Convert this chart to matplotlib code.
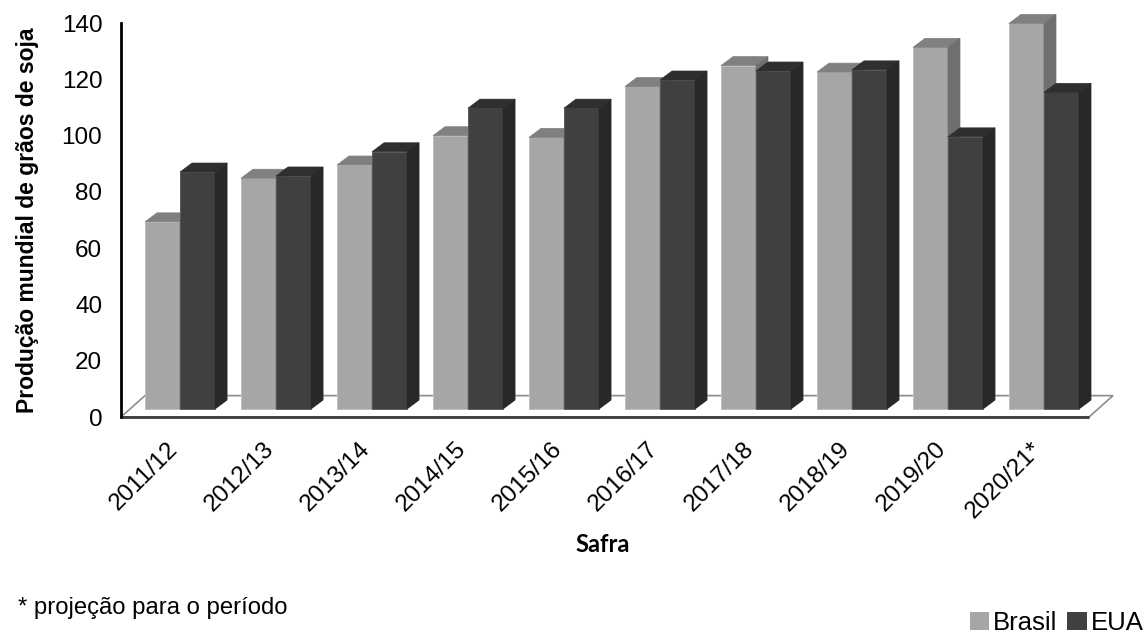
import matplotlib
matplotlib.use("Agg")
import matplotlib.pyplot as plt
import matplotlib.transforms as mtransforms
from matplotlib.patches import Polygon, Patch

# safra (harvest) labels and production values (million t)
safras = ["2011/12", "2012/13", "2013/14", "2014/15", "2015/16",
          "2016/17", "2017/18", "2018/19", "2019/20", "2020/21*"]
brasil = [66.5, 82.0, 86.7, 97.1, 96.5, 114.6, 122.0, 119.7, 128.5, 137.0]
eua = [84.2, 82.8, 91.4, 106.9, 106.9, 116.9, 120.1, 120.5, 96.7, 112.5]
yticks = [0, 20, 40, 60, 80, 100, 120, 140]

# 3d look: bar depth / floor depth in data units
BAR_W = 0.365
DEPTH_X, DEPTH_Y = 0.125, 3.2
FLOOR_X, FLOOR_Y = 0.25, 7.6
BAR_BASE = 2.84

C_BR, C_BR_TOP, C_BR_SIDE = "#a6a6a6", "#808080", "#6f6f6f"
C_US, C_US_TOP, C_US_SIDE = "#404040", "#2f2f2f", "#282828"

plt.rcParams["font.family"] = ["Liberation Sans", "DejaVu Sans"]

W, H = 1146, 634
fig = plt.figure(figsize=(W / 100, H / 100), dpi=100)
ax = fig.add_axes([121 / W, (H - 417) / H, (1113 - 121) / W, (417 - 23) / H])
x0, x1 = -0.615, 9.719
ax.set_xlim(x0, x1)
ax.set_ylim(0, 140)

# floor
floor = Polygon([(x0, 0), (x0 + FLOOR_X, FLOOR_Y), (x1, FLOOR_Y), (x1 - FLOOR_X, 0)],
                closed=True, fc="white", ec="#8c8c8c", lw=1.2, clip_on=False, zorder=1)
ax.add_patch(floor)
ax.plot([x0, x1 - FLOOR_X], [0, 0], color="#3a3a3a", lw=2, clip_on=False,
        solid_capstyle="butt", zorder=2)


def bar3d(xs, vals, front, top, side):
    bars = ax.bar(xs, vals, width=BAR_W, bottom=BAR_BASE, color=front,
                  edgecolor="#bdbdbd" if front == C_BR else "#555555",
                  linewidth=0.6, zorder=3, clip_on=False)
    for b in bars:
        l, r = b.get_x(), b.get_x() + b.get_width()
        lo, hi = b.get_y(), b.get_y() + b.get_height()
        ax.add_patch(Polygon([(l, hi), (l + DEPTH_X, hi + DEPTH_Y),
                              (r + DEPTH_X, hi + DEPTH_Y), (r, hi)],
                             fc=top, ec=top, lw=0.5, zorder=3, clip_on=False))
        ax.add_patch(Polygon([(r, lo), (r + DEPTH_X, lo + DEPTH_Y),
                              (r + DEPTH_X, hi + DEPTH_Y), (r, hi)],
                             fc=side, ec=side, lw=0.5, zorder=3, clip_on=False))


idx = list(range(len(safras)))
bar3d([i - BAR_W / 2 for i in idx], brasil, C_BR, C_BR_TOP, C_BR_SIDE)
bar3d([i + BAR_W / 2 for i in idx], eua, C_US, C_US_TOP, C_US_SIDE)

for s in ["top", "right", "bottom"]:
    ax.spines[s].set_visible(False)
ax.spines["left"].set_linewidth(2)
ax.spines["left"].set_color("black")

ax.set_yticks(yticks)
ax.tick_params(axis="y", length=0, pad=13.5, labelsize=17.5)
ax.set_xticks(idx)
ax.set_xticklabels(safras, rotation=45, ha="right", va="top",
                   rotation_mode="anchor", fontsize=17.5)
ax.tick_params(axis="x", length=0, pad=15)
shift = mtransforms.ScaledTranslation(-13 / 100, 0, fig.dpi_scale_trans)
for lab in ax.get_xticklabels():
    lab.set_transform(lab.get_transform() + shift)

ax.set_ylabel("Produção mundial de grãos de soja", fontsize=16.5,
              fontweight="bold", labelpad=16)

fig.text(603 / W, 1 - 545 / H, "Safra", family=["Lato", "DejaVu Sans"],
         fontweight="bold", fontsize=17, ha="center", va="center")
fig.text(18 / W, 1 - 608 / H, "* projeção para o período", fontsize=17.2,
         ha="left", va="center")

handles = [Patch(fc=C_BR, ec="none"), Patch(fc=C_US, ec="none")]
fig.legend(handles, ["Brasil", "EUA"], loc="center right",
           bbox_to_anchor=(1.0, 1 - 623 / H), ncol=2, frameon=False,
           fontsize=18.5, handlelength=0.75, handleheight=0.75,
           handletextpad=0.15, columnspacing=0.4, borderpad=0, borderaxespad=0.1)

fig.savefig("out.png", dpi=100)
